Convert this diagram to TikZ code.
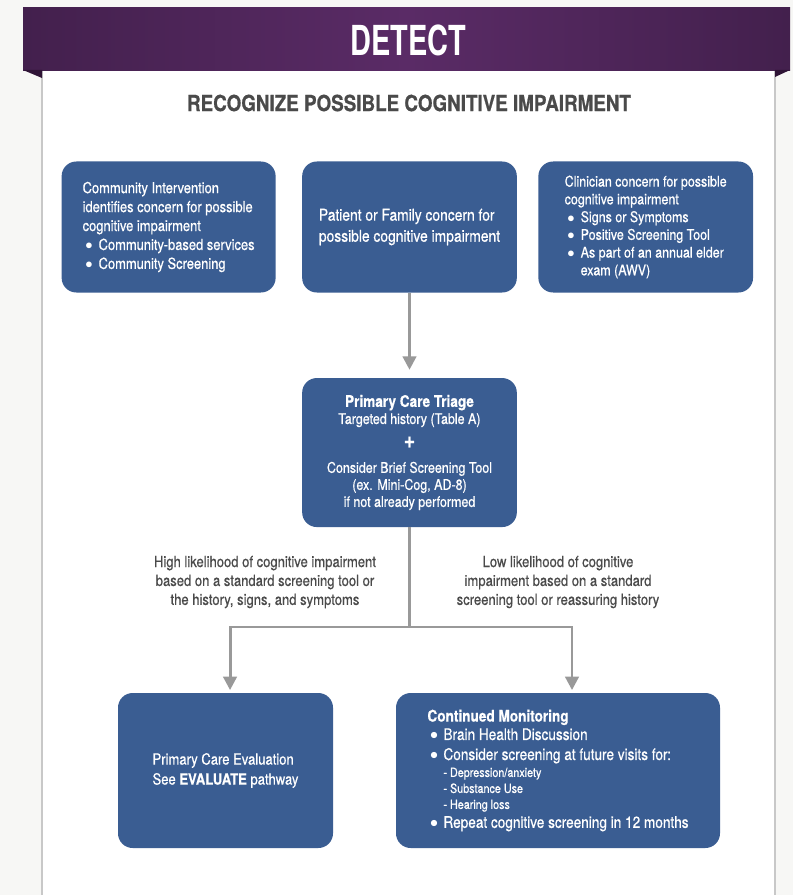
\documentclass[tikz,border=0pt]{standalone}
\usepackage{fontspec}
\setmainfont{TeX Gyre Heros}[FakeStretch=0.85, FakeBold=0.6]
\newfontfamily\headfont{TeX Gyre Heros}[FakeStretch=0.7]
\usetikzlibrary{arrows.meta,positioning,calc}
\definecolor{DetectPurple}{HTML}{43204D}
\definecolor{DetectPurpleLight}{HTML}{5A2B66}
\definecolor{DetectFold}{HTML}{2F1436}
\definecolor{BoxBlue}{HTML}{3A5D92}
\definecolor{FrameGray}{HTML}{C8C8C8}
\definecolor{ArrowGray}{HTML}{999999}
\definecolor{LabelGray}{HTML}{4A4A4A}
\definecolor{PageBg}{HTML}{F7F7F5}
\newcommand{\bul}{\hspace*{2pt}\makebox[10pt][l]{$\bullet$}}
\newcommand{\bulgap}{\hspace*{2pt}\makebox[10pt][l]{}}
\newcommand{\subpoint}[1]{\bulgap{\fontsize{9.5}{11.5}\selectfont - #1}}
\tikzset{
  pbox/.style={fill=BoxBlue, rounded corners=11pt, text=white, align=left,
               font=\fontsize{11}{14}\selectfont, inner sep=0pt},
  lbl/.style={text=LabelGray, align=center, font=\fontsize{11.5}{14.2}\selectfont},
  flowline/.style={draw=ArrowGray, line width=2.2pt},
  flowarr/.style={flowline, -{Triangle[length=10pt,width=10pt]}}
}

\begin{document}
\begin{tikzpicture}[x=0.75pt, y=-0.75pt]
\useasboundingbox (0,0) rectangle (793,895);
\fill[PageBg] (0,0) rectangle (793,895);
\fill[white] (42,71) rectangle (775,895);
\draw[FrameGray, line width=2pt] (42,71) -- (42,895);
\draw[FrameGray, line width=2pt] (775,71) -- (775,895);
\shade[left color=DetectPurple, right color=DetectPurple, middle color=DetectPurpleLight]
  (23,8) rectangle (790,71);
\fill[DetectFold] (23,70) -- (42,70) -- (42,78) -- cycle;
\fill[DetectFold] (775,70) -- (790,70) -- (775,77) -- cycle;
\node[text=white, font=\headfont\bfseries\fontsize{31}{31}\selectfont] (title) at (408,40) {DETECT};
\node[text=LabelGray, font=\bfseries\fontsize{16.6}{16.6}\selectfont] (subtitle) at (409,103)
  {RECOGNIZE POSSIBLE COGNITIVE IMPAIRMENT};

\node[pbox, minimum width=161pt, minimum height=98.25pt, font=\fontsize{12.2}{15.8}\selectfont]
  (family) at (409.5,227) {Patient or Family concern for\\possible cognitive impairment};
\node[pbox, minimum width=160.5pt, minimum height=98.25pt, left=19.5pt of family,
  font=\fontsize{11.4}{14.2}\selectfont] (community)
  {Community Intervention\\identifies concern for possible\\cognitive impairment\\
   \bul Community-based services\\\bul Community Screening};
\node[pbox, minimum width=161pt, minimum height=98.25pt, right=15.75pt of family,
  font=\fontsize{11}{13.3}\selectfont] (clinician)
  {Clinician concern for possible\\cognitive impairment\\\bul Signs or Symptoms\\
   \bul Positive Screening Tool\\\bul As part of an annual elder\\\bulgap exam (AWV)};
\node[pbox, align=center, minimum width=161pt, minimum height=111.75pt, below=63.75pt of family,
  font=\fontsize{11}{12.8}\selectfont] (triage)
  {{\bfseries\fontsize{12}{12.8}\selectfont Primary Care Triage}\\Targeted history (Table A)\\[5pt]
   {\bfseries\fontsize{17}{17}\selectfont +}\\[6pt]
   Consider Brief Screening Tool\\(ex. Mini-Cog, AD-8)\\if not already performed};
\node[pbox, minimum width=161.25pt, minimum height=116.25pt, font=\fontsize{11.5}{15}\selectfont]
  (evaluation) at (225.5,770.5) {Primary Care Evaluation\\See \textbf{EVALUATE} pathway};
\node[pbox, minimum width=243pt, minimum height=116.25pt, font=\fontsize{12}{13.5}\selectfont]
  (monitoring) at (558,770.5)
  {\textbf{Continued Monitoring}\\[0.3pt]
   \bul Brain Health Discussion\\[1.5pt]
   \bul Consider screening at future visits for:\\[-0.8pt]
   \subpoint{Depression/anxiety}\\[-1.5pt]
   \subpoint{Substance Use}\\[-1.5pt]
   \subpoint{Hearing loss}\\[0.7pt]
   \bul Repeat cognitive screening in 12 months};

\node[lbl] (high) at (265,582) {High likelihood of cognitive impairment\\based on a standard screening tool or\\the history, signs, and symptoms};
\node[lbl] (low) at (558,582) {Low likelihood of cognitive\\impairment based on a standard\\screening tool or reassuring history};

\coordinate (split) at (409.5,627);
\draw[flowarr, shorten >=6pt] (family) -- (triage);
\draw[flowline] (triage) -- (split);
\draw[flowarr, shorten >=2pt] (split) -| ([xshift=3.4pt]evaluation.north);
\draw[flowarr, shorten >=2pt] (split) -| ([xshift=10.5pt]monitoring.north);
\end{tikzpicture}
\end{document}
